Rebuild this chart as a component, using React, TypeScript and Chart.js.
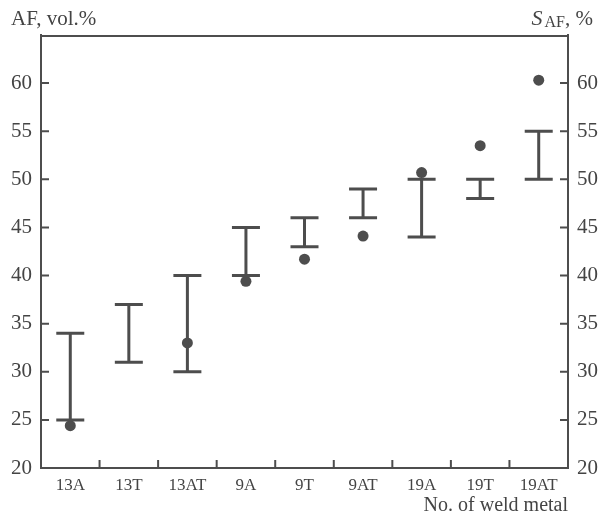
import React, { useEffect, useRef } from "react";
import { Chart, registerables } from "chart.js";

Chart.register(...registerables);

const categories = ["13A", "13T", "13AT", "9A", "9T", "9AT", "19A", "19T", "19AT"];
const rangeLow = [25, 31, 30, 40, 43, 46, 44, 48, 50];
const rangeHigh = [34, 37, 40, 45, 46, 49, 50, 50, 55];
const sAF: (number | null)[] = [24.4, null, 33, 39.4, 41.7, 44.1, 50.7, 53.5, 60.3];
const yTicks = [20, 25, 30, 35, 40, 45, 50, 55, 60];

const INK = "#4d4d4d";
const TEXT = "#444444";
const FONT = "'Liberation Serif', serif";

const drawPlugin = {
  id: "customDraw",
  afterDatasetsDraw(chart: any) {
    const ctx = chart.ctx;
    const xs = chart.scales.x;
    const ys = chart.scales.y;
    const ca = chart.chartArea;
    ctx.save();
    ctx.strokeStyle = INK;
    ctx.lineCap = "butt";
    // error bars
    ctx.lineWidth = 3;
    for (let i = 0; i < categories.length; i++) {
      const x = xs.getPixelForValue(i);
      const y1 = ys.getPixelForValue(rangeLow[i]);
      const y2 = ys.getPixelForValue(rangeHigh[i]);
      const hw = 14;
      ctx.beginPath();
      ctx.moveTo(x, y1);
      ctx.lineTo(x, y2);
      ctx.moveTo(x - hw, y1);
      ctx.lineTo(x + hw, y1);
      ctx.moveTo(x - hw, y2);
      ctx.lineTo(x + hw, y2);
      ctx.stroke();
    }
    // inner ticks
    ctx.lineWidth = 2;
    const tl = 8;
    for (const v of yTicks) {
      const y = ys.getPixelForValue(v);
      ctx.beginPath();
      ctx.moveTo(ca.left, y);
      ctx.lineTo(ca.left + tl, y);
      ctx.moveTo(ca.right, y);
      ctx.lineTo(ca.right - tl, y);
      ctx.stroke();
    }
    for (let i = 1; i < categories.length; i++) {
      const x = (xs.getPixelForValue(i - 1) + xs.getPixelForValue(i)) / 2;
      ctx.beginPath();
      ctx.moveTo(x, ca.bottom);
      ctx.lineTo(x, ca.bottom - tl);
      ctx.stroke();
    }
    // top border
    ctx.lineWidth = 2;
    ctx.beginPath();
    ctx.moveTo(ca.left - 1, ca.top + 1);
    ctx.lineTo(ca.right + 1, ca.top + 1);
    ctx.stroke();
    // titles
    ctx.fillStyle = TEXT;
    ctx.textBaseline = "alphabetic";
    ctx.textAlign = "left";
    ctx.font = `21px ${FONT}`;
    ctx.fillText("AF, vol.%", 11, 25);
    // S_AF, %
    const tail = ", %";
    ctx.font = `21px ${FONT}`;
    const wTail = ctx.measureText(tail).width;
    ctx.font = `16px ${FONT}`;
    const wSub = ctx.measureText("AF").width;
    ctx.font = `italic 22px ${FONT}`;
    const wS = ctx.measureText("S").width;
    const right = 593;
    let x0 = right - wTail - wSub - wS - 2;
    ctx.fillText("S", x0, 25);
    x0 += wS + 2;
    ctx.font = `16px ${FONT}`;
    ctx.fillText("AF", x0, 27);
    x0 += wSub;
    ctx.font = `21px ${FONT}`;
    ctx.fillText(tail, x0, 25);
    ctx.restore();
  },
};

export default function App() {
  const ref = useRef<HTMLCanvasElement>(null);
  useEffect(() => {
    if (!ref.current) return;
    const chart = new Chart(ref.current, {
      type: "line",
      data: {
        labels: categories,
        datasets: [
          {
            data: sAF,
            showLine: false,
            pointRadius: 5.5,
            pointBackgroundColor: INK,
            pointBorderColor: INK,
            pointBorderWidth: 0,
          },
        ],
      },
      options: {
        animation: false,
        responsive: false,
        maintainAspectRatio: false,
        layout: { padding: { top: 35, left: 0, right: 0, bottom: 0 } },
        plugins: { legend: { display: false }, tooltip: { enabled: false }, title: { display: false } },
        scales: {
          x: {
            type: "category",
            offset: true,
            grid: { display: false, offset: true, drawTicks: false },
            border: { display: true, color: INK, width: 2 },
            ticks: { color: TEXT, font: { family: FONT, size: 17 }, padding: 7, maxRotation: 0 },
            title: {
              display: true,
              text: "No. of weld metal",
              align: "end",
              color: TEXT,
              font: { family: FONT, size: 20 },
              padding: { top: 3, bottom: 0 },
            },
            afterFit: (s: any) => {
              s.height = 50;
            },
          },
          y: {
            min: 20,
            max: 65,
            position: "left",
            grid: { display: false, drawTicks: false },
            border: { display: true, color: INK, width: 2 },
            afterBuildTicks: (s: any) => {
              s.ticks = yTicks.map((v) => ({ value: v }));
            },
            ticks: { color: TEXT, font: { family: FONT, size: 21 }, padding: 9 },
            afterFit: (s: any) => {
              s.width = 41;
            },
          },
          y2: {
            min: 20,
            max: 65,
            position: "right",
            grid: { display: false, drawTicks: false },
            border: { display: true, color: INK, width: 2 },
            afterBuildTicks: (s: any) => {
              s.ticks = yTicks.map((v) => ({ value: v }));
            },
            ticks: { color: TEXT, font: { family: FONT, size: 21 }, padding: 9 },
            afterFit: (s: any) => {
              s.width = 41;
            },
          },
        },
      },
      plugins: [drawPlugin],
    });
    return () => chart.destroy();
  }, []);
  return (
    <div style={{ position: "fixed", left: 0, top: 0, width: 609, height: 518, background: "#fff" }}>
      <canvas ref={ref} width={609} height={518} style={{ width: 609, height: 518 }} />
    </div>
  );
}
